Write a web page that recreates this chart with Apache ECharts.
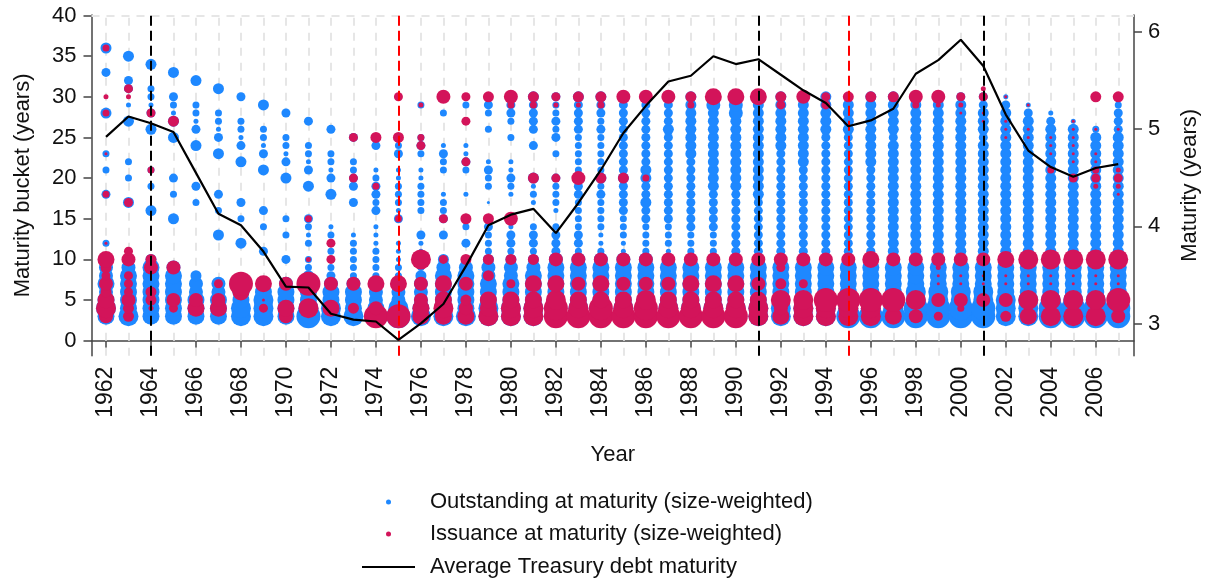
<!DOCTYPE html>
<html><head><meta charset="utf-8">
<script src="https://cdn.jsdelivr.net/npm/echarts@6/dist/echarts.min.js"></script>
<style>html,body{margin:0;padding:0;background:#fff}#c{width:1209px;height:584px}</style>
</head><body><div id="c"></div>
<script>
// ---------------- data ----------------
const YEARS = [1962,1963,1964,1965,1966,1967,1968,1969,1970,1971,1972,1973,1974,1975,1976,1977,1978,1979,1980,1981,1982,1983,1984,1985,1986,1987,1988,1989,1990,1991,1992,1993,1994,1995,1996,1997,1998,1999,2000,2001,2002,2003,2004,2005,2006,2007];

// Average Treasury debt maturity (years), right axis
const AVG_MATURITY = [4.92,5.13,5.06,4.97,4.55,4.13,4.01,3.74,3.38,3.37,3.10,3.04,3.02,2.83,3.00,3.20,3.59,4.01,4.12,4.18,3.93,4.24,4.58,4.96,5.24,5.49,5.55,5.75,5.67,5.72,5.56,5.40,5.27,5.03,5.09,5.21,5.57,5.71,5.92,5.65,5.15,4.78,4.61,4.51,4.60,4.64];

// Relative weight codes (0 = none) per maturity bucket 0..36, one string per year
const OUTSTANDING = [
"00078 76766 60300 00040 03030 00050 00040 05",
"00087 77776 50000 00500 30300 00502 04400 50",
"00077 77777 50000 05003 03000 05042 33005 00",
"00077 77776 00000 50030 40000 50523 40050 00",
"00077 76650 00000 00304 00005 04233 00500 00",
"00077 76600 00050 03040 00050 42330 05000 00",
"00088 77600 00500 30400 00504 23300 40000 00",
"00088 87600 04003 04000 05042 33005 00000 00",
"00077 77600 40030 30000 50423 30040 00000 00",
"00098 77653 30323 40005 04233 00400 00000 00",
"00088 77643 33332 00050 42330 04000 00000 00",
"00087 77633 33320 00404 43300 40000 00000 00",
"00077 66633 33222 04344 32004 40000 00000 00",
"00098 66633 22200 42333 22043 40000 00000 00",
"00087 66653 52240 03333 22034 30003 00000 00",
"00087 77776 50040 43320 03342 00030 00000 00",
"00087 77776 40403 40020 03422 00003 00000 00",
"00088 77766 53334 40103 34200 03034 00000 00",
"00088 77766 53442 50023 42200 30344 00000 00",
"00088 77776 53443 00232 50004 04444 50000 00",
"00088 77777 64443 02333 40030 43433 40000 00",
"00088 77777 63443 33344 53333 34444 50000 00",
"00088 77777 63223 33343 53333 34344 50000 00",
"00088 77777 62233 34444 54444 44444 50000 00",
"00088 77777 63333 44544 55444 44444 50000 00",
"00088 77777 52333 44444 44444 45444 50000 00",
"00088 77777 53334 44444 44455 55555 50000 00",
"00088 77777 53334 44445 55555 55556 60000 00",
"00088 77777 54444 44445 55555 55566 60000 00",
"00088 77777 54444 44455 55555 55555 60000 00",
"00088 77777 54444 44444 44445 55555 50000 00",
"00088 77777 54444 44444 44555 55555 50000 00",
"00088 77777 54444 44444 44444 45555 50000 00",
"00098 77777 54444 44444 44444 45555 40000 00",
"00098 77777 54444 44444 44555 55555 50000 00",
"00098 77777 55555 55555 55555 45555 50000 00",
"00099 88777 55555 55555 55555 55555 50000 00",
"00099 88777 55555 55555 55555 55555 50000 00",
"00099 88777 55555 55555 55555 55555 40000 00",
"00099 88777 55555 55555 55555 45554 40000 00",
"00088 87777 55555 55555 55555 55554 20000 00",
"00088 87777 55555 55555 55555 55542 00000 00",
"00099 87777 55555 55555 55555 55420 00000 00",
"00099 87777 55555 55555 55555 55200 00000 00",
"00099 87777 55555 55555 55555 53000 00000 00",
"00099 87777 55555 55555 55555 54443 00000 00"
];

const ISSUANCE = [
"00068 75645 70100 00030 00010 00030 20000 03",
"00055 64440 64000 00400 00000 00000 24000 00",
"00002 55006 50000 00000 03000 00040 00000 00",
"00004 60006 00000 00000 00000 00500 00000 00",
"00007 60000 00000 00000 00000 00000 00000 00",
"00007 60400 00000 00000 00000 00000 00000 00",
"00000 07900 00000 00000 00000 00000 00000 00",
"00004 10700 00000 00000 00000 00000 00000 00",
"00067 00600 00000 00000 00000 00000 00000 00",
"00008 00900 20000 30000 00000 00000 00000 00",
"00007 00600 40400 00000 00000 00000 00000 00",
"00005 00600 00000 00000 40000 40000 00000 00",
"00096 00700 00000 00003 00000 50000 00000 00",
"00090 00700 00000 30000 00000 50000 40000 00",
"00077 60600 80000 00000 00004 30002 00000 00",
"00078 70700 40000 40000 00000 00000 60000 00",
"00076 50600 50000 50000 00400 00400 40000 00",
"00087 70050 50000 50000 00000 00000 50000 00",
"00088 70400 50000 60000 00000 00003 60000 00",
"00088 70700 50000 00000 50000 00003 50000 00",
"00099 80700 60000 00000 40000 00002 40000 00",
"00098 70600 60000 00000 60000 00002 50000 00",
"00099 70700 60000 00000 50000 00003 50000 00",
"00098 70600 60000 00000 50000 00000 60000 00",
"00099 80600 60000 00000 30000 00000 60000 00",
"00098 70600 60000 00000 00000 00000 60000 00",
"00098 70700 60000 00000 00000 00003 50000 00",
"00098 70700 60000 00000 00000 00000 70000 00",
"00098 70700 60000 00000 00000 00000 70000 00",
"00088 70600 60000 00000 00000 00000 70000 00",
"00076 80504 60000 00000 00000 00004 50000 00",
"00088 80400 60000 00000 00000 00000 60000 00",
"00088 90000 60000 00000 00000 00004 40000 00",
"00088 90000 60000 00000 00000 00000 50000 00",
"00088 90000 70000 00000 00000 00000 50000 00",
"00070 90000 60000 00000 00000 00000 50000 00",
"00060 80000 60000 00000 00000 00003 60000 00",
"00040 60112 60000 00000 00000 00002 60000 00",
"00003 60110 60000 00000 00000 00012 40000 00",
"00000 60110 60000 00000 00000 00110 42000 00",
"00050 60110 70000 00000 00000 11100 10000 00",
"00070 80110 80000 00000 00000 11001 00000 00",
"00080 80110 80000 00000 03011 10000 00000 00",
"00080 80110 80000 00000 40111 11100 00000 00",
"00080 80110 80000 00002 43110 01000 50000 00",
"00060 90110 80000 00012 42000 01000 50000 00"
];

const X_TICKS = [1962,1964,1966,1968,1970,1972,1974,1976,1978,1980,1982,1984,1986,1988,1990,1992,1994,1996,1998,2000,2002,2004,2006];
const LEFT_TICKS = [0,5,10,15,20,25,30,35,40];
const RIGHT_TICKS = [3,4,5,6];
const BLACK_LINES = [1964,1991,2001];
const RED_LINES = [1975,1995];
const NAMES = ['Outstanding at maturity (size-weighted)','Issuance at maturity (size-weighted)','Average Treasury debt maturity'];

// ---------------- build ----------------
const SIZE_PX = [0,3,5,7,9,11,14,17,20,24];
function toPoints(rows){
  const pts = [];
  rows.forEach((s,i)=>{
    const c = s.replace(/\s/g,'');
    for (let b=0;b<c.length;b++){
      const w = +c[b];
      if (w>0) pts.push([YEARS[i], b, w]);
    }
  });
  return pts;
}
const FONT = 'Liberation Sans, Arial, Helvetica, sans-serif';
const FS = 22;
const chart = echarts.init(document.getElementById('c'), null, {renderer:'canvas'});
const axisLine = {show:true, lineStyle:{color:'#444', width:1.5}};
const axisTick = {show:true, length:8, lineStyle:{color:'#444', width:1.5}};
const labelStyle = {color:'#111', fontSize:FS, fontFamily:FONT};

function legendAt(name, left, top, icon, w, h, pad){
  return {
    orient:'vertical', left:left, top:top, padding:0,
    itemWidth:w, itemHeight:h,
    formatter:'{a|{name}}',
    textStyle:{color:'#111', fontSize:FS, fontFamily:FONT,
      rich:{a:{color:'#111', fontSize:FS, fontFamily:FONT, padding:[0,0,0,pad]}}},
    data: [{name:name, icon:icon}]
  };
}

chart.setOption({
  animation:false,
  backgroundColor:'#fff',
  textStyle:{fontFamily:FONT},
  grid:{left:91.5, right:74, top:15, bottom:228.3, containLabel:false},
  xAxis:{
    type:'value', min:1961.356, max:2007.70,
    name:'Year', nameLocation:'middle', nameGap:88,
    nameTextStyle:{color:'#111', fontSize:FS, fontFamily:FONT},
    axisLine: axisLine,
    axisTick: Object.assign({}, axisTick, {length:7, customValues:X_TICKS}),
    axisLabel: Object.assign({}, labelStyle, {fontSize:23, rotate:90, margin:11, customValues:X_TICKS, formatter:v=>String(v)}),
    splitLine:{show:false}
  },
  yAxis:[{
    type:'value', min:-1.846, max:40.06, position:'left',
    name:'Maturity bucket (years)', nameLocation:'middle', nameRotate:90, nameGap:58,
    nameTextStyle:{color:'#111', fontSize:FS, fontFamily:FONT},
    axisLine: axisLine,
    axisTick: Object.assign({}, axisTick, {customValues:LEFT_TICKS}),
    axisLabel: Object.assign({}, labelStyle, {margin:15, customValues:LEFT_TICKS, formatter:v=>String(v)}),
    splitLine:{show:false}
  },{
    type:'value', min:2.668, max:6.175, position:'right',
    name:'Maturity (years)', nameLocation:'middle', nameRotate:90, nameGap:45,
    nameTextStyle:{color:'#111', fontSize:FS, fontFamily:FONT},
    axisLine: axisLine,
    axisTick: Object.assign({}, axisTick, {customValues:RIGHT_TICKS}),
    axisLabel: Object.assign({}, labelStyle, {margin:14, customValues:RIGHT_TICKS, formatter:v=>String(v)}),
    splitLine:{show:false}
  }],
  legend:[
    legendAt(NAMES[0], 386, 491, 'circle', 53, 5, 10),
    legendAt(NAMES[1], 386, 523, 'circle', 53, 5, 10),
    legendAt(NAMES[2], 362, 556, 'rect', 53, 2, 10)
  ],
  series:[
    { // background grid lines
      type:'line', data:[], silent:true, z:1,
      markLine:{
        z:1, silent:true, symbol:['none','none'], label:{show:false}, animation:false,
        lineStyle:{color:'#e6e6e6', width:2, type:[8,7]},
        data: YEARS.map(y=>({xAxis:y})).concat([{yAxis:40}])
      }
    },
    {
      name:NAMES[0], type:'scatter', z:2,
      data: toPoints(OUTSTANDING),
      symbol:'circle', symbolSize: v=>SIZE_PX[v[2]],
      itemStyle:{color:'#1E88FF', opacity:1}
    },
    {
      name:NAMES[1], type:'scatter', z:3,
      data: toPoints(ISSUANCE),
      symbol:'circle', symbolSize: v=>SIZE_PX[v[2]],
      itemStyle:{color:'#D3145A', opacity:1}
    },
    { // reference lines
      type:'line', data:[], silent:true, z:4,
      markLine:{
        z:4, silent:true, symbol:['none','none'], label:{show:false}, animation:false,
        data: BLACK_LINES.map(y=>({xAxis:y, lineStyle:{color:'#000', width:2, type:[10,5]}}))
          .concat(RED_LINES.map(y=>({xAxis:y, lineStyle:{color:'#FF0000', width:2, type:[10,5]}})))
      }
    },
    {
      name:NAMES[2], type:'line', yAxisIndex:1, z:5,
      data: YEARS.map((y,i)=>[y, AVG_MATURITY[i]]),
      symbol:'none', showSymbol:false,
      lineStyle:{color:'#000', width:2.2},
      itemStyle:{color:'#000'}
    }
  ]
});
</script>
</body></html>
